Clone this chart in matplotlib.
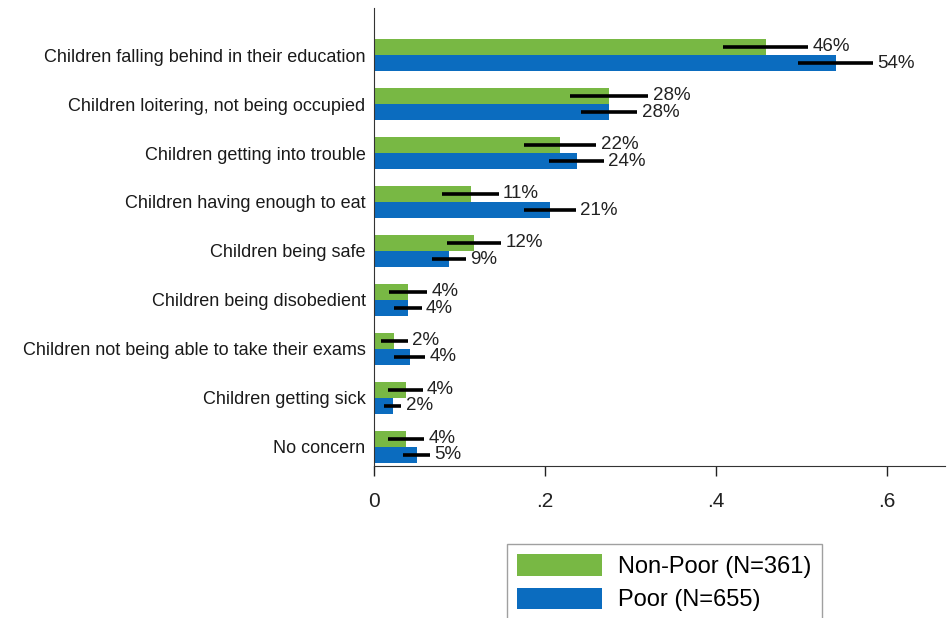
import matplotlib
matplotlib.use('Agg')
import numpy as np
import matplotlib.pyplot as plt

plt.rcParams['font.family'] = ['Liberation Sans', 'DejaVu Sans']

categories = ['Children falling behind in their education',
              'Children loitering, not being occupied',
              'Children getting into trouble',
              'Children having enough to eat',
              'Children being safe',
              'Children being disobedient',
              'Children not being able to take their exams',
              'Children getting sick',
              'No concern']

nonpoor = [0.458, 0.275, 0.218, 0.113, 0.117, 0.040, 0.024, 0.037, 0.038]
poor = [0.540, 0.275, 0.237, 0.206, 0.088, 0.040, 0.042, 0.022, 0.050]
nonpoor_err = [0.050, 0.046, 0.042, 0.033, 0.032, 0.022, 0.016, 0.020, 0.021]
poor_err = [0.044, 0.033, 0.032, 0.030, 0.020, 0.016, 0.018, 0.010, 0.016]
nonpoor_lbl = ['46%', '28%', '22%', '11%', '12%', '4%', '2%', '4%', '4%']
poor_lbl = ['54%', '28%', '24%', '21%', '9%', '4%', '4%', '2%', '5%']

green = '#78b844'
blue = '#0b6cbf'

fig = plt.figure(figsize=(9.49, 6.18), dpi=100)
ax = fig.add_axes([0.394, 0.246, 0.602, 0.741])

n = len(categories)
pos = np.arange(n)[::-1]  # top group first
h = 0.33

ax.barh(pos + h / 2, nonpoor, height=h, color=green, label='Non-Poor (N=361)')
ax.barh(pos - h / 2, poor, height=h, color=blue, label='Poor (N=655)')
ax.errorbar(nonpoor, pos + h / 2, xerr=nonpoor_err, fmt='none', ecolor='black', elinewidth=2.6, capsize=0)
ax.errorbar(poor, pos - h / 2, xerr=poor_err, fmt='none', ecolor='black', elinewidth=2.6, capsize=0)

for i in range(n):
    ax.text(nonpoor[i] + nonpoor_err[i] + 0.005, pos[i] + h / 2, nonpoor_lbl[i],
            va='center', ha='left', fontsize=13.5, color='#222222')
    ax.text(poor[i] + poor_err[i] + 0.005, pos[i] - h / 2, poor_lbl[i],
            va='center', ha='left', fontsize=13.5, color='#222222')

ax.set_yticks(pos)
ax.set_yticklabels(categories, fontsize=13, color='#1a1a1a')
ax.tick_params(axis='y', length=0, pad=6)
ax.set_xlim(0, 0.668)
ax.set_ylim(-0.39, n - 1 + 0.96)
ax.set_xticks([0, 0.2, 0.4, 0.6])
ax.set_xticklabels(['0', '.2', '.4', '.6'], fontsize=15)
ax.tick_params(axis='x', length=7, width=1, pad=12, colors='#222222')
for s in ['top', 'right']:
    ax.spines[s].set_visible(False)
ax.spines['left'].set_color('#333333')
ax.spines['bottom'].set_color('#333333')

# legend box runs off the bottom edge, as in the original
leg = fig.legend(loc='upper left', bbox_to_anchor=(0.534, 0.12), fontsize=17,
                 frameon=True, fancybox=False, edgecolor='#888888',
                 handlelength=3.6, handleheight=1.0, borderpad=0.45, labelspacing=0.4,
                 handletextpad=0.65, borderaxespad=0)

plt.savefig('out.png', dpi=100)
